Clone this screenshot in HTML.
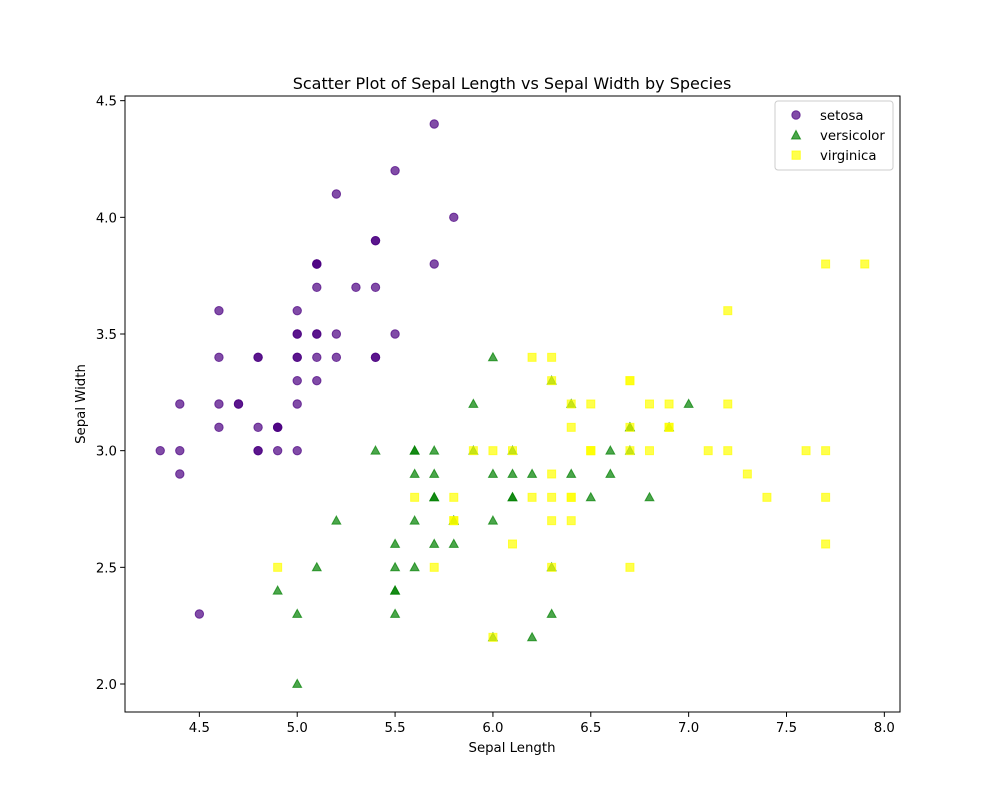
<!DOCTYPE html>
<html><head><meta charset="utf-8"><style>
body{margin:0;background:#fff;}
svg text{font-family:"DejaVu Sans","Liberation Sans",sans-serif;fill:#000;}
</style></head><body>
<svg id="chart" width="1000" height="800" xmlns="http://www.w3.org/2000/svg">
<rect width="1000" height="800" fill="#fff"/>
<text x="512" y="89" font-size="16" text-anchor="middle">Scatter Plot of Sepal Length vs Sepal Width by Species</text>
<g id="marks"></g>
<rect x="125" y="96" width="775" height="616" fill="none" stroke="#000" stroke-width="1"/>
<g id="axes"></g>
<text x="512" y="752" font-size="13.3" text-anchor="middle">Sepal Length</text>
<text x="85" y="404" font-size="13.3" text-anchor="middle" transform="rotate(-90 85 404)">Sepal Width</text>
<g>
<rect x="775" y="101" width="118" height="69" rx="3" fill="#fff" fill-opacity="0.8" stroke="#ccc"/>
<circle cx="796" cy="115" r="4.2" fill="#4b0082" fill-opacity="0.7" stroke="#4b0082" stroke-opacity="0.7"/>
<text x="820" y="120" font-size="13.3">setosa</text>
<polygon points="796,130.5 800.5,139 791.5,139" fill="#008000" fill-opacity="0.7" stroke="#008000" stroke-opacity="0.7"/>
<text x="820" y="140" font-size="13.3">versicolor</text>
<rect x="792" y="151" width="8.3" height="8.3" fill="#ffff00" fill-opacity="0.7" stroke="#ffff00" stroke-opacity="0.7"/>
<text x="820" y="160" font-size="13.3">virginica</text>
</g>
</svg>
<script>
const setosaX=[5.1,4.9,4.7,4.6,5.0,5.4,4.6,5.0,4.4,4.9,5.4,4.8,4.8,4.3,5.8,5.7,5.4,5.1,5.7,5.1,5.4,5.1,4.6,5.1,4.8,5.0,5.0,5.2,5.2,4.7,4.8,5.4,5.2,5.5,4.9,5.0,5.5,4.9,4.4,5.1,5.0,4.5,4.4,5.0,5.1,4.8,5.1,4.6,5.3,5.0];
const setosaY=[3.5,3.0,3.2,3.1,3.6,3.9,3.4,3.4,2.9,3.1,3.7,3.4,3.0,3.0,4.0,4.4,3.9,3.5,3.8,3.8,3.4,3.7,3.6,3.3,3.4,3.0,3.4,3.5,3.4,3.2,3.1,3.4,4.1,4.2,3.1,3.2,3.5,3.1,3.0,3.4,3.5,2.3,3.2,3.5,3.8,3.0,3.8,3.2,3.7,3.3];
const versicolorX=[7.0,6.4,6.9,5.5,6.5,5.7,6.3,4.9,6.6,5.2,5.0,5.9,6.0,6.1,5.6,6.7,5.6,5.8,6.2,5.6,5.9,6.1,6.3,6.1,6.4,6.6,6.8,6.7,6.0,5.7,5.5,5.5,5.8,6.0,5.4,6.0,6.7,6.3,5.6,5.5,5.5,6.1,5.8,5.0,5.6,5.7,5.7,6.2,5.1,5.7];
const versicolorY=[3.2,3.2,3.1,2.3,2.8,2.8,3.3,2.4,2.9,2.7,2.0,3.0,2.2,2.9,2.9,3.1,3.0,2.7,2.2,2.5,3.2,2.8,2.5,2.8,2.9,3.0,2.8,3.0,2.9,2.6,2.4,2.4,2.7,2.7,3.0,3.4,3.1,2.3,3.0,2.5,2.6,3.0,2.6,2.3,2.7,3.0,2.9,2.9,2.5,2.8];
const virginicaX=[6.3,5.8,7.1,6.3,6.5,7.6,4.9,7.3,6.7,7.2,6.5,6.4,6.8,5.7,5.8,6.4,6.5,7.7,7.7,6.0,6.9,5.6,7.7,6.3,6.7,7.2,6.2,6.1,6.4,7.2,7.4,7.9,6.4,6.3,6.1,7.7,6.3,6.4,6.0,6.9,6.7,6.9,5.8,6.8,6.7,6.7,6.3,6.5,6.2,5.9];
const virginicaY=[3.3,2.7,3.0,2.9,3.0,3.0,2.5,2.9,2.5,3.6,3.2,2.7,3.0,2.5,2.8,3.2,3.0,3.8,2.6,2.2,3.2,2.8,2.8,2.7,3.3,3.2,2.8,3.0,2.8,3.0,2.8,3.8,2.8,2.8,2.6,3.0,3.4,3.1,3.0,3.1,3.1,3.1,2.7,3.2,3.3,3.0,2.5,3.0,3.4,3.0];
const xTicks=[4.5,5.0,5.5,6.0,6.5,7.0,7.5,8.0];
const yTicks=[2.0,2.5,3.0,3.5,4.0,4.5];
const xLabels=["4.5","5.0","5.5","6.0","6.5","7.0","7.5","8.0"];
const yLabels=["2.0","2.5","3.0","3.5","4.0","4.5"];

const NS="http://www.w3.org/2000/svg";
const X0=125,X1=900,Y0=96,Y1=712;
const xmin=4.12,xmax=8.08,ymin=1.88,ymax=4.52;
function sx(v){return X0+(v-xmin)/(xmax-xmin)*(X1-X0);}
function sy(v){return Y1-(v-ymin)/(ymax-ymin)*(Y1-Y0);}
function mk(tag,attrs){const e=document.createElementNS(NS,tag);for(const k in attrs)e.setAttribute(k,attrs[k]);return e;}
const marks=document.getElementById('marks');
setosaX.forEach((v,i)=>{
  const c=mk('circle',{cx:sx(v),cy:sy(setosaY[i]),r:4.2,fill:'#4b0082','fill-opacity':0.7,stroke:'#4b0082','stroke-opacity':0.7});
  
  
  marks.appendChild(c);
});
versicolorX.forEach((v,i)=>{
  const x=sx(v),y=sy(versicolorY[i]);
  const p=mk('polygon',{points:`${x},${y-4.6} ${x+4.4},${y+3.4} ${x-4.4},${y+3.4}`,fill:'#008000','fill-opacity':0.7,stroke:'#008000','stroke-opacity':0.7});
  
  
  marks.appendChild(p);
});
virginicaX.forEach((v,i)=>{
  const x=sx(v),y=sy(virginicaY[i]);
  const r=mk('rect',{x:x-4,y:y-4,width:8,height:8,fill:'#ffff00','fill-opacity':0.7,stroke:'#ffff00','stroke-opacity':0.7});
  
  
  marks.appendChild(r);
});
const axes=document.getElementById('axes');
xTicks.forEach((v,i)=>{
  const x=sx(v);
  const t=mk('line',{x1:x,x2:x,y1:Y1,y2:Y1+4.9,stroke:'#000'});
  
  
  axes.appendChild(t);
  const l=mk('text',{x:x,y:Y1+20,'font-size':13.3,'text-anchor':'middle'});
  l.textContent=xLabels[i];
  
  
  axes.appendChild(l);
});
yTicks.forEach((v,i)=>{
  const y=sy(v);
  const t=mk('line',{x1:X0-4.9,x2:X0,y1:y,y2:y,stroke:'#000'});
  
  
  axes.appendChild(t);
  const l=mk('text',{x:X0-8,y:y+5,'font-size':13.3,'text-anchor':'end'});
  l.textContent=yLabels[i];
  
  
  axes.appendChild(l);
});
</script>
</body></html>
